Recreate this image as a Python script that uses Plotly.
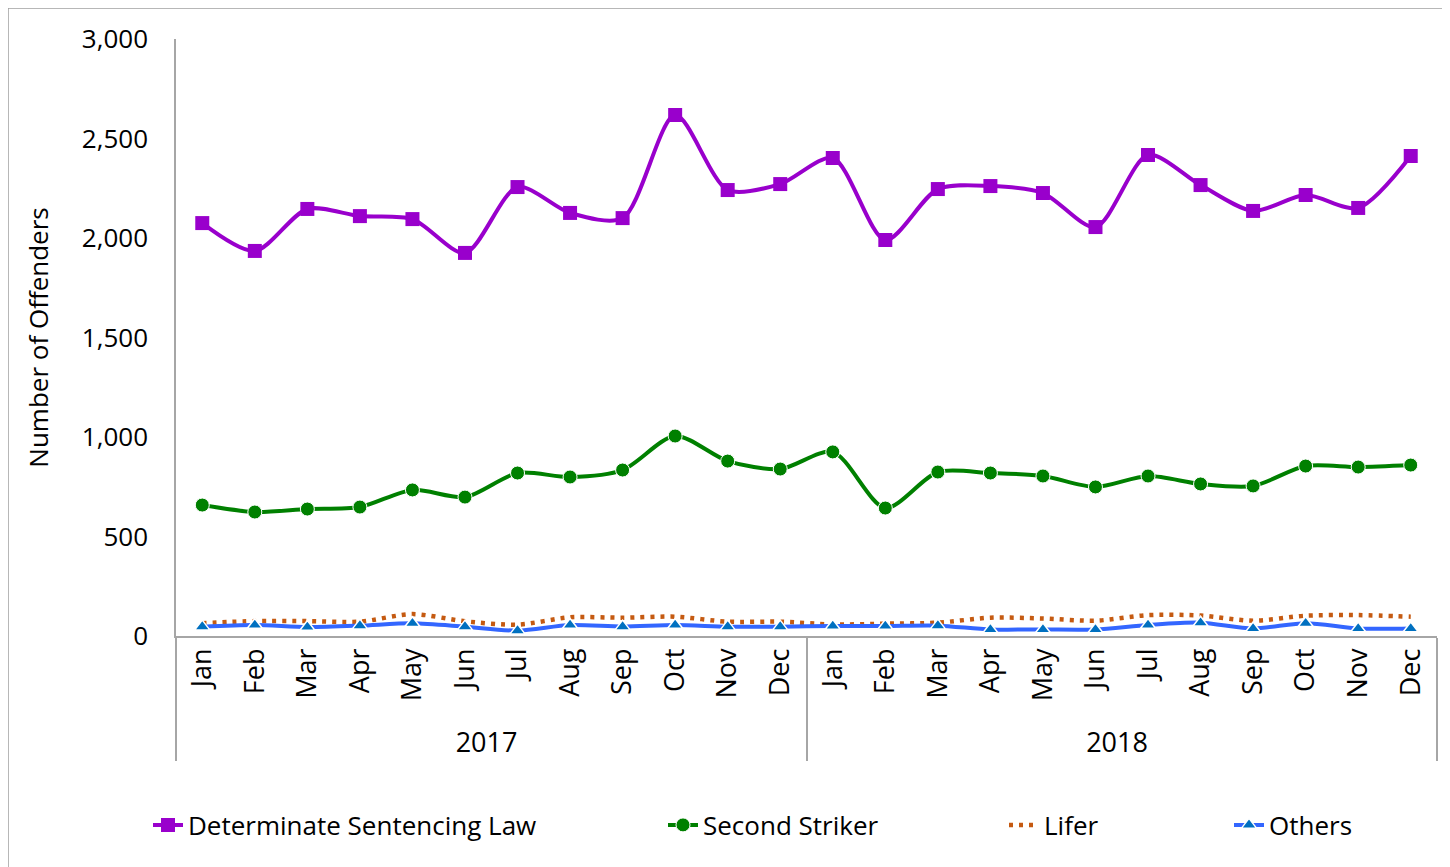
import plotly.graph_objects as go

months = ["Jan", "Feb", "Mar", "Apr", "May", "Jun", "Jul", "Aug", "Sep", "Oct", "Nov", "Dec"]
years = ["2017", "2018"]

dsl = [2075, 1935, 2146, 2110, 2095, 1925, 2256, 2126, 2100, 2618, 2241, 2271,
       2402, 1990, 2246, 2261, 2226, 2055, 2417, 2266, 2136, 2216, 2151, 2412]
second_striker = [658, 623, 638, 648, 734, 698, 819, 799, 834, 1005, 879, 839,
                  925, 643, 824, 819, 804, 749, 804, 764, 754, 854, 849, 859]
lifer = [64, 75, 75, 72, 110, 74, 57, 94, 92, 97, 72, 72,
         58, 62, 67, 92, 88, 77, 105, 103, 77, 102, 105, 97]
others = [47, 55, 45, 52, 64, 47, 27, 55, 47, 55, 47, 47,
          50, 50, 52, 33, 33, 33, 55, 67, 38, 64, 38, 38]

x_year = [y for y in years for _ in months]
x_month = [m for _ in years for m in months]
x = [x_year, x_month]

FONT = "Open Sans, Noto Sans, Liberation Sans, sans-serif"

fig = go.Figure()
fig.add_trace(go.Scatter(
    x=x, y=dsl, name="Determinate Sentencing Law", mode="lines+markers", legend="legend",
    line=dict(color="#9900CC", width=4, shape="spline", smoothing=0.8),
    marker=dict(symbol="square", size=14, color="#9900CC")))
fig.add_trace(go.Scatter(
    x=x, y=second_striker, name="Second Striker", mode="lines+markers", legend="legend2",
    line=dict(color="#008000", width=4, shape="spline", smoothing=0.8),
    marker=dict(symbol="circle", size=14, color="#008000", line=dict(color="white", width=1))))
fig.add_trace(go.Scatter(
    x=x, y=lifer, name="Lifer", mode="lines", legend="legend3",
    line=dict(color="#C55A11", width=4.5, dash="4px,6px", shape="spline", smoothing=0.8)))
fig.add_trace(go.Scatter(
    x=x, y=others, name="Others", mode="lines+markers", legend="legend4",
    line=dict(color="#3366FF", width=4, shape="spline", smoothing=0.8),
    marker=dict(symbol="triangle-up", size=13, color="#0070C0", line=dict(color="white", width=1.5))))

W, H = 1450, 867
OFF = 8  # page body margin offset
L, R, T, B = 168, 21, 31, 239
PW, PH = W - L - R, H - T - B


def px_x(screen):
    return (screen - OFF - L) / PW


def px_y(screen):
    return (H - B - (screen - OFF)) / PH


leg_common = dict(orientation="h", yanchor="middle", y=px_y(825), xanchor="left",
                  font=dict(size=26), bgcolor="rgba(0,0,0,0)")

fig.update_layout(
    width=W, height=H,
    paper_bgcolor="white", plot_bgcolor="white",
    margin=dict(l=L, r=R, t=T, b=B),
    font=dict(family=FONT, size=26, color="black"),
    showlegend=True,
    legend=dict(x=px_x(148), **leg_common),
    legend2=dict(x=px_x(663), **leg_common),
    legend3=dict(x=px_x(1004), **leg_common),
    legend4=dict(x=px_x(1229), **leg_common),
    xaxis=dict(type="multicategory", range=[-0.5, 23.5], tickangle=-90, showline=True,
               linecolor="#A6A6A6", linewidth=1.5, showdividers=True, dividercolor="#A6A6A6",
               dividerwidth=1.5, showgrid=False, ticks="", tickfont=dict(size=27),
               automargin=False),
    yaxis=dict(range=[0, 3000], tickvals=[0, 500, 1000, 1500, 2000, 2500, 3000],
               tickformat=",", showline=True, linecolor="#A6A6A6", linewidth=1.5,
               showgrid=False, zeroline=False, ticks="", ticklabelstandoff=21,
               title=dict(text="Number of Offenders", font=dict(size=26), standoff=26),
               tickfont=dict(size=26), automargin=False),
)

# thin outer border around the whole chart
fig.add_shape(type="rect", xref="paper", yref="paper",
              x0=px_x(8), x1=px_x(1446), y0=px_y(880), y1=px_y(8),
              line=dict(color="#A0A0A0", width=1.5), fillcolor="rgba(0,0,0,0)", layer="below")

fig.write_html("out.html")
